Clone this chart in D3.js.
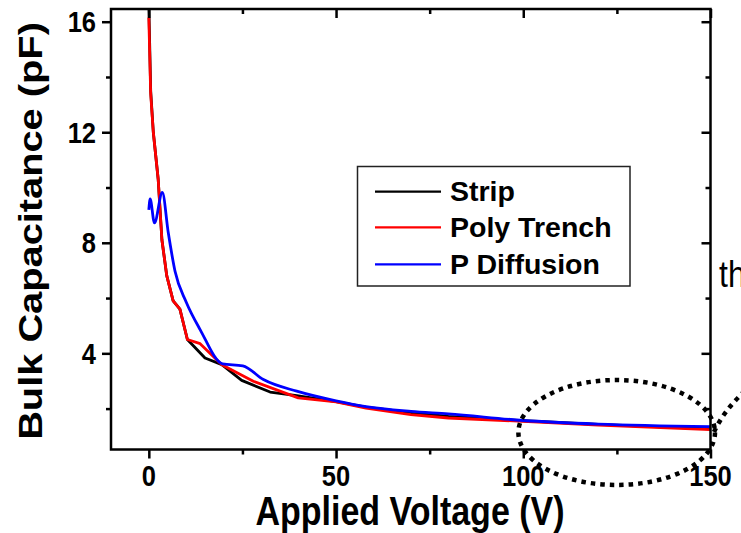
<!DOCTYPE html>
<html>
<head>
<meta charset="utf-8">
<script src="https://cdn.jsdelivr.net/npm/d3@7"></script>
<style>
  html, body { margin: 0; padding: 0; background: #fff; overflow: hidden; }
  text { font-family: "Liberation Sans", Arial, sans-serif; }
</style>
</head>
<body>
<div id="chart"></div>
<script>
// data
const seriesNames = ["Strip", "Poly Trench", "P Diffusion"];
const seriesColors = ["#000000", "#ff0000", "#0000ff"];

const stripV = [0, 0.5, 1.2, 2.5, 3.5, 4.8, 6.5, 8.3, 10.3, 15, 19.5, 24.8, 32.4, 39.5, 50, 58, 70, 80, 100, 120, 150];
const stripC = [16.6, 13.5, 12.0, 10.3, 8.1, 6.8, 5.9, 5.6, 4.5, 3.83, 3.59, 3.02, 2.6, 2.47, 2.25, 2.05, 1.85, 1.72, 1.56, 1.43, 1.27];

const polyV = [0, 0.5, 1.2, 2.5, 3.5, 4.8, 6.5, 8.3, 10.3, 13.7, 19.5, 27.9, 39.9, 50, 58, 70, 80, 100, 120, 150];
const polyC = [16.15, 13.4, 12.0, 10.3, 8.1, 6.8, 5.9, 5.6, 4.5, 4.35, 3.59, 2.99, 2.39, 2.24, 2.02, 1.78, 1.66, 1.54, 1.4, 1.24];

const diffV = [0, 0.35, 1.5, 3.6, 5.2, 7.0, 10, 13.7, 19.7, 25.1, 30.6, 39.5, 50, 58, 70, 80, 100, 120, 150];
const diffC = [9.19, 9.59, 8.72, 9.82, 8.36, 6.97, 5.85, 4.86, 3.62, 3.55, 3.05, 2.63, 2.28, 2.07, 1.9, 1.81, 1.57, 1.44, 1.35];

const xMajor = [0, 50, 100, 150];
const xMinor = [25, 75, 125];
const yMajor = [4, 8, 12, 16];
const yMinor = [2, 6, 10, 14];

const width = 741;
const height = 533;
const plot = { left: 111, right: 710.5, top: 9, bottom: 449.5 };
const vStretch = 1.17; // the figure is stretched vertically

const svg = d3.select("#chart")
  .append("svg")
  .attr("width", width)
  .attr("height", height);

svg.append("rect").attr("width", width).attr("height", height).attr("fill", "#fff");

const x = d3.scaleLinear().domain([-10.1, 150]).range([plot.left, plot.right]);
const y = d3.scaleLinear().domain([0.52, 16.46]).range([plot.bottom, plot.top]);

svg.append("clipPath").attr("id", "clip")
  .append("rect")
  .attr("x", plot.left).attr("y", plot.top)
  .attr("width", plot.right - plot.left).attr("height", plot.bottom - plot.top);

// curves: straight segments, the diffusion wiggle is smoothed
const lineFor = (curve) => d3.line()
  .x((d) => x(d[0]))
  .y((d) => y(d[1]))
  .curve(curve);

const series = [
  { pts: d3.zip(stripV, stripC), curve: d3.curveLinear },
  { pts: d3.zip(polyV, polyC), curve: d3.curveLinear },
  { pts: d3.zip(diffV, diffC), curve: d3.curveMonotoneX }
];

svg.append("g")
  .attr("clip-path", "url(#clip)")
  .selectAll("path")
  .data(series)
  .join("path")
  .attr("fill", "none")
  .attr("stroke", (d, i) => seriesColors[i])
  .attr("stroke-width", 2.8)
  .attr("stroke-linejoin", "round")
  .attr("d", (d) => lineFor(d.curve)(d.pts));

// axes: ticks only, labels drawn separately
const addTicks = (axisFn, scale, values, size, transform) => {
  svg.append("g")
    .attr("transform", transform)
    .call(axisFn(scale).tickValues(values).tickSize(size).tickFormat(""))
    .call((g) => g.select(".domain").remove())
    .call((g) => g.selectAll("line").attr("stroke", "#000").attr("stroke-width", 2.5));
};

addTicks(d3.axisBottom, x, xMajor, 9, `translate(0,${plot.bottom})`);
addTicks(d3.axisBottom, x, xMinor, 5, `translate(0,${plot.bottom})`);
addTicks(d3.axisTop, x, xMajor, -9, `translate(0,${plot.top})`);
addTicks(d3.axisTop, x, xMinor, -5, `translate(0,${plot.top})`);
addTicks(d3.axisLeft, y, yMajor, 9, `translate(${plot.left},0)`);
addTicks(d3.axisLeft, y, yMinor, 5, `translate(${plot.left},0)`);
addTicks(d3.axisRight, y, yMajor, -9, `translate(${plot.right},0)`);
addTicks(d3.axisRight, y, yMinor, -5, `translate(${plot.right},0)`);

svg.append("rect")
  .attr("x", plot.left).attr("y", plot.top)
  .attr("width", plot.right - plot.left).attr("height", plot.bottom - plot.top)
  .attr("fill", "none")
  .attr("stroke", "#000")
  .attr("stroke-width", 2.5);

// tick labels
svg.append("g")
  .selectAll("text")
  .data(xMajor)
  .join("text")
  .attr("transform", (d) => `translate(${x(d)},486) scale(1,${vStretch})`)
  .attr("text-anchor", "middle")
  .attr("font-size", 25.5)
  .attr("font-weight", "bold")
  .text((d) => d);

svg.append("g")
  .selectAll("text")
  .data(yMajor)
  .join("text")
  .attr("transform", (d) => `translate(96,${y(d) + 10.5}) scale(1,${vStretch})`)
  .attr("text-anchor", "end")
  .attr("font-size", 25.5)
  .attr("font-weight", "bold")
  .text((d) => d);

// axis titles
svg.append("text")
  .attr("transform", `translate(410,525) scale(1,${vStretch})`)
  .attr("text-anchor", "middle")
  .attr("font-size", 34)
  .attr("font-weight", "bold")
  .text("Applied Voltage (V)");

svg.append("text")
  .attr("transform", `translate(42,231) rotate(-90) scale(${vStretch},1)`)
  .attr("text-anchor", "middle")
  .attr("font-size", 34)
  .attr("font-weight", "bold")
  .text("Bulk Capacitance (pF)");

// legend
const legend = svg.append("g");
legend.append("rect")
  .attr("x", 357.5).attr("y", 166.5)
  .attr("width", 272.5).attr("height", 119.5)
  .attr("fill", "#fff")
  .attr("stroke", "#222")
  .attr("stroke-width", 1.5);

const rowY = [191.7, 227.3, 264.3];
const rows = legend.selectAll("g")
  .data(seriesNames)
  .join("g")
  .attr("transform", (d, i) => `translate(0,${rowY[i]})`);

rows.append("line")
  .attr("x1", 375).attr("x2", 441)
  .attr("stroke", (d, i) => seriesColors[i])
  .attr("stroke-width", 2.2);

rows.append("text")
  .attr("x", 450)
  .attr("y", 9.5)
  .attr("font-size", 28.5)
  .attr("font-weight", "bold")
  .text((d) => d);

// annotation: dotted ellipse around the high-voltage end
svg.append("ellipse")
  .attr("cx", 616.7).attr("cy", 432.5)
  .attr("rx", 98.3).attr("ry", 52.5)
  .attr("fill", "none")
  .attr("stroke", "#000")
  .attr("stroke-width", 4.5)
  .attr("stroke-dasharray", "4.5 5");

svg.append("path")
  .attr("d", "M714,432 Q724,410 746,390")
  .attr("fill", "none")
  .attr("stroke", "#000")
  .attr("stroke-width", 4.5)
  .attr("stroke-dasharray", "4.5 5");

// text cut by the right edge, as in the reference
svg.append("text")
  .attr("transform", `translate(719,287) scale(1,${vStretch})`)
  .attr("font-family", "'Open Sans', 'Noto Sans', sans-serif")
  .attr("font-size", 32)
  .text("th");
</script>
</body>
</html>
